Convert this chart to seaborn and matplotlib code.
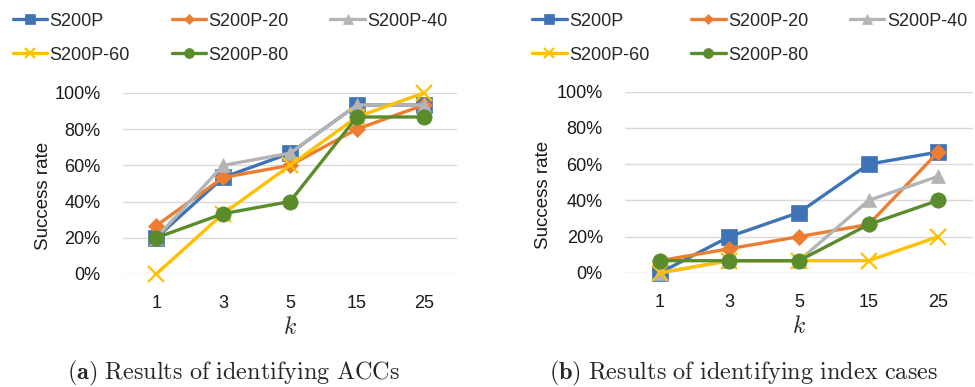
import matplotlib
matplotlib.use("Agg")
import matplotlib.pyplot as plt
import seaborn as sns
import pandas as pd

sns.set_theme(style="white")
plt.rcParams['font.family'] = ['Liberation Sans', 'DejaVu Sans']
plt.rcParams['mathtext.fontset'] = 'cm'

k_labels = ["1", "3", "5", "15", "25"]
series_names = ["S200P", "S200P-20", "S200P-40", "S200P-60", "S200P-80"]

acc_s200p = [20, 53.3, 66.7, 93.3, 93.3]
acc_s200p20 = [26.7, 53.3, 60, 80, 93.3]
acc_s200p40 = [20, 60, 66.7, 93.3, 93.3]
acc_s200p60 = [0, 33.3, 60, 86.7, 100]
acc_s200p80 = [20, 33.3, 40, 86.7, 86.7]

idx_s200p = [0, 20, 33.3, 60, 66.7]
idx_s200p20 = [6.7, 13.3, 20, 26.7, 66.7]
idx_s200p40 = [0, 6.7, 6.7, 40, 53.3]
idx_s200p60 = [0, 6.7, 6.7, 6.7, 20]
idx_s200p80 = [6.7, 6.7, 6.7, 26.7, 40]

y_ticks = [0, 20, 40, 60, 80, 100]
captions = [r"$\mathbf{(a)}$ $\mathrm{Results\ of\ identifying\ ACCs}$",
            r"$\mathbf{(b)}$ $\mathrm{Results\ of\ identifying\ index\ cases}$"]

colors = ["#3E74B7", "#ED7D31", "#B4B4B4", "#FFC000", "#5A8C2C"]
markers = ["s", "D", "^", "x", "o"]
msizes = [11, 8, 10, 11, 11]

panels = [
    [acc_s200p, acc_s200p20, acc_s200p40, acc_s200p60, acc_s200p80],
    [idx_s200p, idx_s200p20, idx_s200p40, idx_s200p60, idx_s200p80],
]

fig = plt.figure(figsize=(9.75, 3.87), dpi=100)
ax_rects = [[0.126, 0.292, 0.343, 0.468], [0.641, 0.295, 0.357, 0.468]]
legend_anchor = [(0.0, 1.0), (0.533, 1.0)]
caption_x = [0.239, 0.763]
ylabel_x = [-0.213, -0.21]
legend_order = [0, 3, 1, 4, 2]

for p, (rect, data) in enumerate(zip(ax_rects, panels)):
    ax = fig.add_axes(rect)
    for name, vals, c, m, ms in zip(series_names, data, colors, markers, msizes):
        df = pd.DataFrame({"k": k_labels, "v": vals})
        sns.lineplot(data=df, x="k", y="v", ax=ax, sort=False, color=c,
                     marker=m, markersize=ms, linewidth=2.4,
                     markeredgecolor=c, markeredgewidth=1.6 if m == "x" else 0.5,
                     label=name, clip_on=False, zorder=3)
    ax.set_xlim(-0.5, 4.5)
    ax.set_ylim(0, 100)
    ax.set_yticks(y_ticks)
    ax.set_yticklabels([f"{v}%" for v in y_ticks])
    ax.yaxis.grid(True, color="#D9D9D9", linewidth=1.0)
    ax.xaxis.grid(False)
    for s in ax.spines.values():
        s.set_visible(False)
    ax.tick_params(axis="both", length=0, labelsize=13, colors="#1a1a1a")
    ax.tick_params(axis="y", pad=16)
    ax.tick_params(axis="x", pad=15)
    ax.set_ylabel("Success rate", fontsize=13.5, color="#1a1a1a")
    ax.yaxis.set_label_coords(ylabel_x[p], 0.43)
    ax.set_xlabel(r"$k$", fontsize=17, labelpad=4)
    ax.set_axisbelow(True)
    handles, labels = ax.get_legend_handles_labels()
    ax.get_legend().remove()
    handles = [handles[i] for i in legend_order]
    labels = [labels[i] for i in legend_order]
    fig.legend(handles, labels, loc="upper left", bbox_to_anchor=legend_anchor[p],
               ncol=3, frameon=False, fontsize=13, handlelength=1.9,
               handletextpad=0.15, columnspacing=2.3, labelspacing=0.95,
               borderaxespad=0.3, markerscale=0.65)
    fig.text(caption_x[p], 0.034, captions[p], ha="center", va="center", fontsize=17.5)

fig.savefig("out.png", dpi=100)
